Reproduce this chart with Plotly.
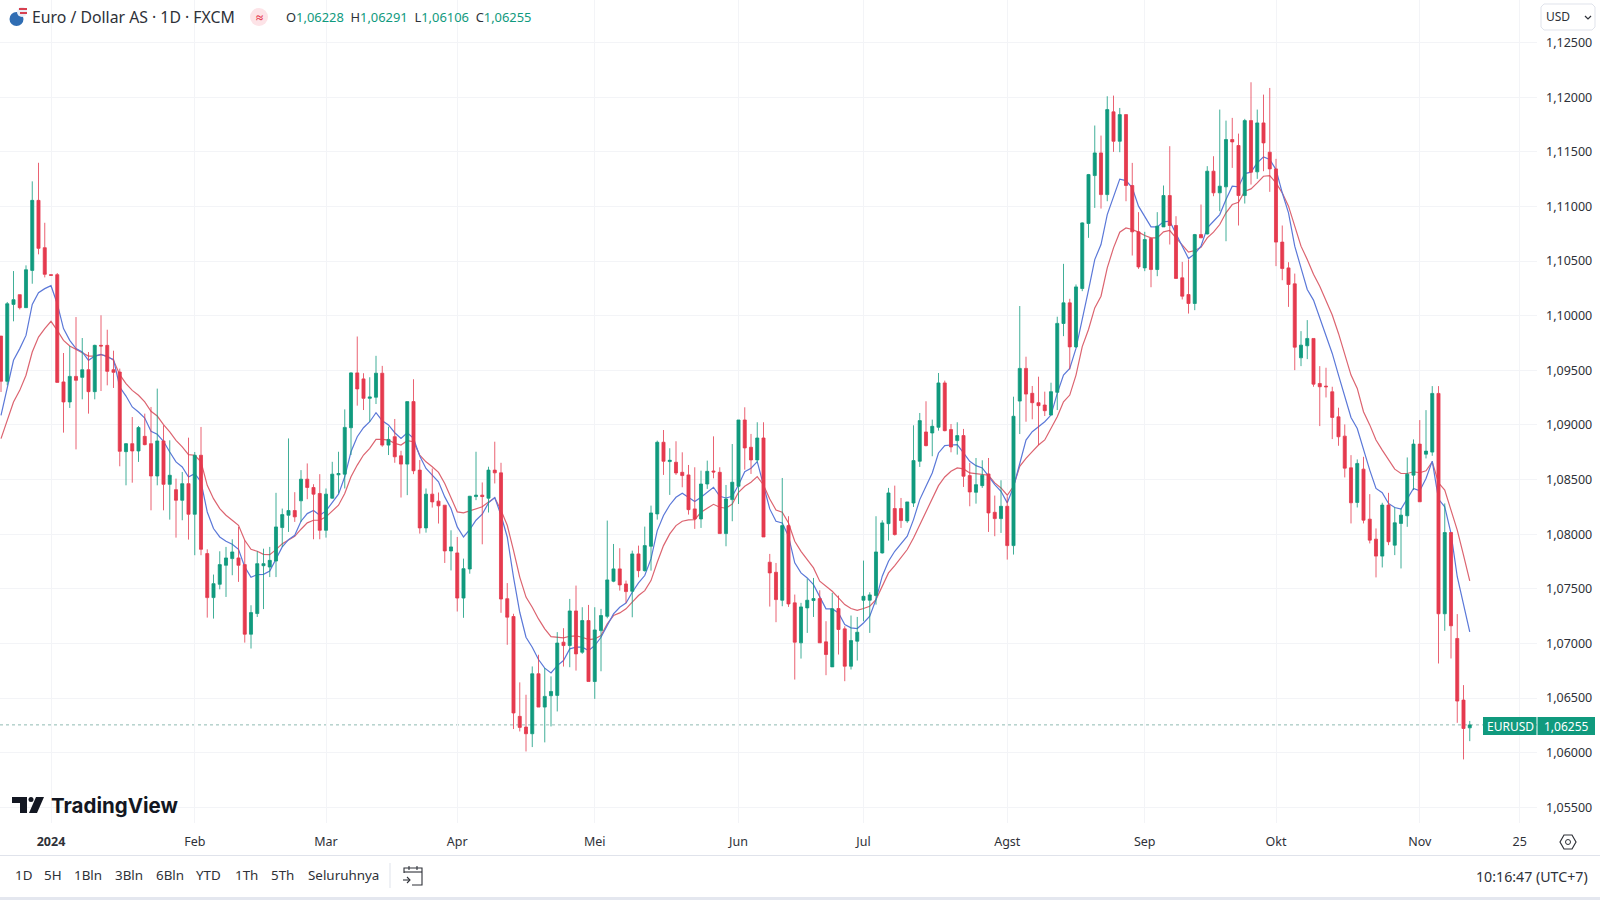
#!/usr/bin/env python3
"""EUR/USD daily candles with two moving averages, TradingView style."""
import plotly.graph_objects as go

WIDTH = 1600
HEIGHT = 900
PANE_RIGHT = 1537
PANE_BOTTOM = 823

GREEN = "#109a7e"
RED = "#e53a4e"
BLUE_MA = "#5b78d8"
RED_MA = "#dc6470"
GRID = "#f3f4f7"
TEXT = "#2e3138"
FONT = "Noto Sans"

# bar number 0 is 1 Jan 2024, one bar per weekday
bars = list(range(-8, 228))

opens = [
    1.09814, 1.09400, 1.10104, 1.10193, 1.10074, 1.10415, 1.11056, 1.10623,
    1.10376, 1.10376, 1.09394, 1.09211, 1.09445, 1.09436, 1.09506, 1.09305, 1.09729, 1.09729,
    1.09506, 1.09485, 1.08756, 1.08829, 1.08762, 1.08896, 1.08829, 1.08533, 1.08854, 1.08457,
    1.08408, 1.08311, 1.08463, 1.08183, 1.08723, 1.07823, 1.07420, 1.07542, 1.07716, 1.07777,
    1.07783, 1.07722, 1.07085, 1.07274, 1.07712, 1.07700, 1.07755, 1.08061, 1.08174, 1.08217,
    1.08306, 1.08504, 1.08428, 1.08373, 1.08036, 1.08330, 1.08544, 1.08550, 1.08975, 1.09477,
    1.09422, 1.09244, 1.09254, 1.09474, 1.08816, 1.08893, 1.08718, 1.08642, 1.09214, 1.08587,
    1.08058, 1.08367, 1.08303, 1.08266, 1.07847, 1.07829, 1.07416, 1.07682, 1.08345, 1.08358,
    1.08330, 1.08587, 1.08562, 1.07410, 1.07247, 1.06333, 1.06235, 1.06174, 1.06723, 1.06418,
    1.06522, 1.06525, 1.07012, 1.06981, 1.07298, 1.06920, 1.07210, 1.06652, 1.07118, 1.07249,
    1.07570, 1.07683, 1.07545, 1.07478, 1.07820, 1.07667, 1.07890, 1.08186, 1.08842, 1.08665,
    1.08659, 1.08567, 1.08543, 1.08232, 1.08140, 1.08460, 1.08579, 1.08567, 1.08006, 1.08317,
    1.08439, 1.09046, 1.08796, 1.08680, 1.08881, 1.07744, 1.07652, 1.07396, 1.08079, 1.07372,
    1.07006, 1.07326, 1.07393, 1.07411, 1.07015, 1.06786, 1.07320, 1.07134, 1.06792, 1.07021,
    1.07396, 1.07396, 1.07439, 1.07829, 1.08097, 1.08235, 1.08235, 1.08122, 1.08286, 1.08668,
    1.08936, 1.08927, 1.08979, 1.09385, 1.08958, 1.08857, 1.08903, 1.08537, 1.08384, 1.08445,
    1.08552, 1.08201, 1.08143, 1.08256, 1.07896, 1.09219, 1.09518, 1.09290, 1.09204, 1.09183,
    1.09091, 1.09299, 1.09929, 1.10118, 1.09715, 1.10249, 1.10844, 1.11283, 1.11490, 1.11109,
    1.11866, 1.11597, 1.11841, 1.11192, 1.10768, 1.10438, 1.10707, 1.10423, 1.10813, 1.11100,
    1.10826, 1.10347, 1.10194, 1.10112, 1.10743, 1.10749, 1.11323, 1.11125, 1.11180, 1.11613,
    1.11558, 1.11100, 1.11786, 1.11317, 1.11765, 1.11497, 1.11344, 1.10674, 1.10438, 1.10292,
    1.09615, 1.09725, 1.09792, 1.09380, 1.09356, 1.09304, 1.09075, 1.08898, 1.08608, 1.08291,
    1.08596, 1.08138, 1.07955, 1.07800, 1.08267, 1.07900, 1.08099, 1.08169, 1.08541, 1.08825,
    1.08733, 1.08752, 1.09289, 1.07272, 1.08016, 1.07046, 1.06482, 1.06228,
]
highs = [
    1.09814, 1.10126, 1.10409, 1.10193, 1.10461, 1.11230, 1.11400, 1.10851,
    1.10376, 1.10391, 1.09659, 1.09723, 1.09988, 1.09796, 1.09668, 1.09735, 1.10004, 1.09872,
    1.09680, 1.09516, 1.08835, 1.09073, 1.08991, 1.09104, 1.09165, 1.09333, 1.08997, 1.08860,
    1.08509, 1.08570, 1.08884, 1.08753, 1.08982, 1.07862, 1.07631, 1.07844, 1.07884, 1.07954,
    1.08067, 1.07945, 1.07350, 1.07844, 1.07868, 1.07884, 1.08379, 1.08235, 1.08877, 1.08385,
    1.08587, 1.08648, 1.08458, 1.08550, 1.08419, 1.08663, 1.08755, 1.09143, 1.09483, 1.09810,
    1.09474, 1.09437, 1.09633, 1.09541, 1.08984, 1.09055, 1.08764, 1.09214, 1.09419, 1.08679,
    1.08419, 1.08602, 1.08382, 1.08266, 1.08036, 1.07975, 1.07777, 1.08351, 1.08755, 1.08474,
    1.08618, 1.08847, 1.08654, 1.07553, 1.07272, 1.06644, 1.06531, 1.06790, 1.06897, 1.06775,
    1.06699, 1.07104, 1.07140, 1.07408, 1.07530, 1.07332, 1.07353, 1.07332, 1.07317, 1.08125,
    1.07911, 1.07872, 1.07576, 1.07850, 1.07896, 1.08070, 1.08262, 1.08857, 1.08954, 1.08787,
    1.08851, 1.08750, 1.08634, 1.08613, 1.08582, 1.08674, 1.08896, 1.08613, 1.08451, 1.08826,
    1.09046, 1.09162, 1.08918, 1.09025, 1.09025, 1.07820, 1.07737, 1.08515, 1.08165, 1.07448,
    1.07372, 1.07594, 1.07600, 1.07487, 1.07204, 1.07463, 1.07439, 1.07158, 1.07256, 1.07243,
    1.07759, 1.07469, 1.08165, 1.08128, 1.08424, 1.08445, 1.08332, 1.08296, 1.08997, 1.09110,
    1.09217, 1.09049, 1.09476, 1.09406, 1.09009, 1.09025, 1.08964, 1.08653, 1.08698, 1.08677,
    1.08698, 1.08354, 1.08494, 1.08348, 1.09259, 1.10089, 1.09625, 1.09357, 1.09442, 1.09305,
    1.09387, 1.09991, 1.10475, 1.10155, 1.10286, 1.10856, 1.11298, 1.11741, 1.11649, 1.12009,
    1.12015, 1.11902, 1.11841, 1.11399, 1.10948, 1.10768, 1.10713, 1.10948, 1.11192, 1.11552,
    1.10911, 1.10493, 1.10515, 1.10749, 1.11018, 1.11369, 1.11460, 1.11887, 1.11786, 1.11811,
    1.11667, 1.11802, 1.12137, 1.11887, 1.12024, 1.12085, 1.11436, 1.10826, 1.10490, 1.10386,
    1.09859, 1.09960, 1.09792, 1.09539, 1.09524, 1.09350, 1.09158, 1.09005, 1.08724, 1.08685,
    1.08709, 1.08367, 1.08053, 1.08288, 1.08379, 1.08245, 1.08236, 1.08703, 1.08868, 1.09045,
    1.09136, 1.09356, 1.09356, 1.08282, 1.08016, 1.07269, 1.06619, 1.06291,
]
lows = [
    1.09302, 1.09363, 1.09949, 1.10058, 1.10074, 1.10293, 1.10562, 1.10351,
    1.10367, 1.09390, 1.08930, 1.09156, 1.08777, 1.09235, 1.09104, 1.09235, 1.09311, 1.09363,
    1.09339, 1.08622, 1.08448, 1.08472, 1.08662, 1.08814, 1.08219, 1.08448, 1.08219, 1.08134,
    1.07969, 1.08128, 1.07951, 1.07808, 1.07808, 1.07237, 1.07228, 1.07496, 1.07426, 1.07625,
    1.07564, 1.07008, 1.06954, 1.07243, 1.07315, 1.07608, 1.07608, 1.07884, 1.08021, 1.08113,
    1.08113, 1.08321, 1.07954, 1.07954, 1.07969, 1.08327, 1.08373, 1.08419, 1.08725, 1.09177,
    1.09137, 1.09030, 1.09192, 1.08801, 1.08725, 1.08654, 1.08336, 1.08358, 1.08550, 1.08006,
    1.08015, 1.08244, 1.08098, 1.07737, 1.07669, 1.07293, 1.07235, 1.07639, 1.08312, 1.07908,
    1.08199, 1.08465, 1.07281, 1.06988, 1.06217, 1.06195, 1.06012, 1.06052, 1.06418, 1.06095,
    1.06241, 1.06378, 1.06789, 1.06783, 1.06752, 1.06905, 1.06652, 1.06493, 1.06746, 1.07231,
    1.07561, 1.07484, 1.07371, 1.07240, 1.07606, 1.07658, 1.07667, 1.08134, 1.08543, 1.08360,
    1.08543, 1.08430, 1.08180, 1.08049, 1.08058, 1.08415, 1.08512, 1.08006, 1.07890, 1.08119,
    1.08277, 1.08591, 1.08552, 1.08659, 1.07975, 1.07338, 1.07195, 1.07341, 1.07335, 1.06670,
    1.06862, 1.07097, 1.07243, 1.07006, 1.06710, 1.06786, 1.06899, 1.06655, 1.06762, 1.06844,
    1.07204, 1.07097, 1.07356, 1.07823, 1.07942, 1.07988, 1.08058, 1.08104, 1.08250, 1.08616,
    1.08805, 1.08714, 1.08948, 1.08942, 1.08750, 1.08729, 1.08433, 1.08256, 1.08280, 1.08424,
    1.08021, 1.07982, 1.08012, 1.07768, 1.07814, 1.08917, 1.09030, 1.09052, 1.08817, 1.09082,
    1.09091, 1.09137, 1.09813, 1.09508, 1.09706, 1.10225, 1.10713, 1.10987, 1.10981, 1.11048,
    1.11500, 1.11497, 1.11048, 1.10551, 1.10429, 1.10408, 1.10261, 1.10362, 1.10813, 1.10652,
    1.10341, 1.10149, 1.10020, 1.10051, 1.10713, 1.10743, 1.11094, 1.10957, 1.10682, 1.11353,
    1.10826, 1.11027, 1.11201, 1.11253, 1.11323, 1.11134, 1.10454, 1.10325, 1.10081, 1.09502,
    1.09539, 1.09603, 1.09350, 1.08990, 1.09252, 1.08871, 1.08810, 1.08520, 1.08099, 1.08245,
    1.08099, 1.07916, 1.07605, 1.07696, 1.07900, 1.07809, 1.07687, 1.08068, 1.08404, 1.08297,
    1.08694, 1.08718, 1.06817, 1.07116, 1.06863, 1.06274, 1.05939, 1.06106,
]
closes = [
    1.09400, 1.10110, 1.10147, 1.10074, 1.10421, 1.11056, 1.10617, 1.10379,
    1.10370, 1.09390, 1.09211, 1.09445, 1.09409, 1.09506, 1.09305, 1.09729, 1.09723, 1.09491,
    1.09482, 1.08759, 1.08829, 1.08762, 1.08976, 1.08820, 1.08533, 1.08854, 1.08457, 1.08540,
    1.08311, 1.08463, 1.08183, 1.08723, 1.07862, 1.07420, 1.07548, 1.07722, 1.07783, 1.07838,
    1.07716, 1.07085, 1.07283, 1.07731, 1.07731, 1.07761, 1.08067, 1.08180, 1.08217, 1.08159,
    1.08504, 1.08428, 1.08367, 1.08036, 1.08367, 1.08550, 1.08556, 1.08978, 1.09477, 1.09330,
    1.09244, 1.09257, 1.09474, 1.08816, 1.08868, 1.08709, 1.08642, 1.09214, 1.08581, 1.08058,
    1.08367, 1.08296, 1.08260, 1.07847, 1.07884, 1.07416, 1.07685, 1.08348, 1.08358, 1.08345,
    1.08587, 1.08562, 1.07407, 1.07241, 1.06364, 1.06232, 1.06174, 1.06723, 1.06418, 1.06516,
    1.06561, 1.07004, 1.06981, 1.07298, 1.06905, 1.07210, 1.06652, 1.07124, 1.07256, 1.07582,
    1.07683, 1.07536, 1.07475, 1.07820, 1.07667, 1.07896, 1.08195, 1.08842, 1.08668, 1.08677,
    1.08561, 1.08537, 1.08225, 1.08140, 1.08460, 1.08576, 1.08570, 1.08006, 1.08323, 1.08476,
    1.09046, 1.08790, 1.08680, 1.08881, 1.07975, 1.07646, 1.07402, 1.08079, 1.07362, 1.07012,
    1.07335, 1.07396, 1.07411, 1.07006, 1.06899, 1.07317, 1.07128, 1.06792, 1.07027, 1.07103,
    1.07432, 1.07445, 1.07838, 1.08104, 1.08378, 1.07997, 1.08125, 1.08296, 1.08674, 1.09040,
    1.08811, 1.08988, 1.09385, 1.08948, 1.08799, 1.08903, 1.08531, 1.08387, 1.08454, 1.08540,
    1.08195, 1.08143, 1.08256, 1.07896, 1.09080, 1.09518, 1.09283, 1.09204, 1.09177, 1.09131,
    1.09305, 1.09930, 1.10118, 1.09715, 1.10264, 1.10850, 1.11292, 1.11490, 1.11109, 1.11887,
    1.11597, 1.11841, 1.11192, 1.10768, 1.10447, 1.10698, 1.10423, 1.10820, 1.11100, 1.10826,
    1.10341, 1.10179, 1.10112, 1.10743, 1.10713, 1.11323, 1.11125, 1.11186, 1.11613, 1.11591,
    1.11100, 1.11786, 1.11314, 1.11765, 1.11582, 1.11344, 1.10674, 1.10432, 1.10286, 1.09712,
    1.09731, 1.09792, 1.09374, 1.09350, 1.09350, 1.09069, 1.08892, 1.08605, 1.08288, 1.08648,
    1.08129, 1.07946, 1.07800, 1.08267, 1.07931, 1.08105, 1.08175, 1.08550, 1.08825, 1.08297,
    1.08761, 1.09289, 1.07272, 1.08016, 1.07162, 1.06473, 1.06222, 1.06255,
]

ma_fast = [
    1.09089, 1.09348, 1.09592, 1.09699, 1.09820, 1.10104, 1.10211, 1.10248,
    1.10275, 1.10110, 1.09882, 1.09775, 1.09699, 1.09668, 1.09592, 1.09631, 1.09647, 1.09622,
    1.09601, 1.09348, 1.09265, 1.09165, 1.09119, 1.09064, 1.08942, 1.08915, 1.08851, 1.08753,
    1.08662, 1.08616, 1.08524, 1.08555, 1.08479, 1.08204, 1.08052, 1.07975, 1.07936, 1.07908,
    1.07862, 1.07701, 1.07606, 1.07631, 1.07633, 1.07663, 1.07777, 1.07884, 1.07951, 1.07991,
    1.08119, 1.08189, 1.08217, 1.08174, 1.08214, 1.08296, 1.08367, 1.08526, 1.08755, 1.08893,
    1.08975, 1.09030, 1.09113, 1.09039, 1.09000, 1.08929, 1.08877, 1.08929, 1.08877, 1.08715,
    1.08602, 1.08541, 1.08480, 1.08342, 1.08235, 1.08067, 1.07975, 1.08043, 1.08128, 1.08183,
    1.08287, 1.08336, 1.08174, 1.07975, 1.07608, 1.07286, 1.07057, 1.06966, 1.06853, 1.06774,
    1.06731, 1.06798, 1.06844, 1.06951, 1.06966, 1.06966, 1.06935, 1.06981, 1.07057, 1.07164,
    1.07271, 1.07332, 1.07371, 1.07469, 1.07554, 1.07622, 1.07774, 1.08033, 1.08171, 1.08268,
    1.08338, 1.08375, 1.08338, 1.08299, 1.08338, 1.08384, 1.08430, 1.08347, 1.08332, 1.08347,
    1.08451, 1.08573, 1.08604, 1.08665, 1.08451, 1.08232, 1.08119, 1.08103, 1.07982, 1.07738,
    1.07646, 1.07600, 1.07539, 1.07433, 1.07317, 1.07317, 1.07280, 1.07173, 1.07143, 1.07137,
    1.07188, 1.07250, 1.07402, 1.07616, 1.07753, 1.07844, 1.07914, 1.07982, 1.08134, 1.08317,
    1.08439, 1.08561, 1.08744, 1.08811, 1.08817, 1.08820, 1.08744, 1.08668, 1.08628, 1.08607,
    1.08531, 1.08454, 1.08393, 1.08287, 1.08433, 1.08653, 1.08862, 1.08939, 1.08985, 1.09030,
    1.09091, 1.09290, 1.09457, 1.09518, 1.09701, 1.09961, 1.10235, 1.10514, 1.10652, 1.10926,
    1.11094, 1.11250, 1.11237, 1.11170, 1.11003, 1.10911, 1.10813, 1.10813, 1.10859, 1.10865,
    1.10758, 1.10637, 1.10524, 1.10566, 1.10637, 1.10804, 1.10865, 1.10926, 1.11064, 1.11186,
    1.11179, 1.11301, 1.11314, 1.11399, 1.11454, 1.11430, 1.11338, 1.11125, 1.10942, 1.10637,
    1.10438, 1.10240, 1.10143, 1.09975, 1.09823, 1.09655, 1.09457, 1.09258, 1.09069, 1.08968,
    1.08770, 1.08587, 1.08419, 1.08380, 1.08282, 1.08245, 1.08230, 1.08322, 1.08419, 1.08398,
    1.08511, 1.08669, 1.08322, 1.08251, 1.08007, 1.07611, 1.07351, 1.07107,
]
ma_slow = [
    1.08875, 1.09043, 1.09210, 1.09317, 1.09455, 1.09668, 1.09805, 1.09882,
    1.09949, 1.09866, 1.09775, 1.09723, 1.09692, 1.09668, 1.09631, 1.09631, 1.09644, 1.09631,
    1.09592, 1.09461, 1.09378, 1.09317, 1.09272, 1.09211, 1.09125, 1.09082, 1.09003, 1.08936,
    1.08860, 1.08799, 1.08729, 1.08723, 1.08662, 1.08448, 1.08326, 1.08235, 1.08174, 1.08128,
    1.08082, 1.07945, 1.07862, 1.07844, 1.07816, 1.07813, 1.07859, 1.07914, 1.07945, 1.07981,
    1.08046, 1.08104, 1.08128, 1.08128, 1.08159, 1.08214, 1.08266, 1.08373, 1.08526, 1.08633,
    1.08725, 1.08786, 1.08868, 1.08868, 1.08862, 1.08832, 1.08816, 1.08856, 1.08847, 1.08725,
    1.08663, 1.08618, 1.08566, 1.08465, 1.08342, 1.08205, 1.08195, 1.08214, 1.08235, 1.08251,
    1.08296, 1.08333, 1.08220, 1.08082, 1.07853, 1.07608, 1.07425, 1.07332, 1.07225, 1.07134,
    1.07063, 1.07054, 1.07051, 1.07066, 1.07069, 1.07057, 1.07036, 1.07042, 1.07073, 1.07179,
    1.07256, 1.07280, 1.07317, 1.07378, 1.07439, 1.07484, 1.07576, 1.07744, 1.07896, 1.08003,
    1.08079, 1.08119, 1.08131, 1.08134, 1.08201, 1.08238, 1.08274, 1.08247, 1.08238, 1.08277,
    1.08384, 1.08439, 1.08476, 1.08527, 1.08451, 1.08323, 1.08222, 1.08201, 1.08103, 1.07936,
    1.07844, 1.07768, 1.07692, 1.07570, 1.07524, 1.07478, 1.07417, 1.07356, 1.07320, 1.07304,
    1.07320, 1.07341, 1.07402, 1.07524, 1.07646, 1.07713, 1.07783, 1.07860, 1.07966, 1.08088,
    1.08210, 1.08317, 1.08445, 1.08524, 1.08576, 1.08607, 1.08598, 1.08561, 1.08552, 1.08546,
    1.08540, 1.08470, 1.08424, 1.08357, 1.08439, 1.08622, 1.08695, 1.08756, 1.08817, 1.08863,
    1.08969, 1.09076, 1.09213, 1.09274, 1.09457, 1.09717, 1.09874, 1.10072, 1.10179, 1.10438,
    1.10621, 1.10765, 1.10804, 1.10789, 1.10765, 1.10734, 1.10713, 1.10713, 1.10768, 1.10780,
    1.10713, 1.10643, 1.10582, 1.10597, 1.10627, 1.10713, 1.10765, 1.10835, 1.10942, 1.11018,
    1.11039, 1.11140, 1.11161, 1.11216, 1.11277, 1.11283, 1.11216, 1.11125, 1.11003, 1.10820,
    1.10637, 1.10515, 1.10380, 1.10270, 1.10143, 1.10006, 1.09838, 1.09640, 1.09457, 1.09335,
    1.09121, 1.09001, 1.08862, 1.08770, 1.08679, 1.08596, 1.08556, 1.08556, 1.08572, 1.08563,
    1.08581, 1.08663, 1.08471, 1.08404, 1.08221, 1.08038, 1.07809, 1.07574,
]

price_ticks = [1.055, 1.06, 1.065, 1.07, 1.075, 1.08, 1.085, 1.09, 1.095,
               1.10, 1.105, 1.11, 1.115, 1.12, 1.125]
month_ticks = [0, 23, 44, 65, 87, 110, 130, 153, 175, 196, 219, 235]
month_labels = ["<b>2024</b>", "Feb", "Mar", "Apr", "Mei", "Jun", "Jul", "Agst", "Sep", "Okt", "Nov", "25"]

range_buttons = ["1D", "5H", "1Bln", "3Bln", "6Bln", "YTD", "1Th", "5Th", "Seluruhnya"]
range_button_x = [23, 52.5, 87.5, 128.5, 169.5, 208.5, 246, 282, 343]

symbol_title = "Euro / Dollar AS · 1D · FXCM"
symbol_short = "EURUSD"
clock_text = "10:16:47 (UTC+7)"


def fmt(value):
    return f"{value:.5f}".replace(".", ",")


def px(x):
    return x / WIDTH


def py(y):
    return 1 - y / HEIGHT


def path(points, close=True):
    cmds = [f"{'M' if i == 0 else 'L'}{px(x):.5f},{py(y):.5f}" for i, (x, y) in enumerate(points)]
    return " ".join(cmds) + (" Z" if close else "")


def label(x, y, text, size=13, color=TEXT, anchor="center", family=FONT):
    return dict(
        x=px(x), y=py(y), xref="paper", yref="paper", text=text, showarrow=False,
        xanchor=anchor, yanchor="middle", font=dict(family=family, size=size, color=color),
    )


def box(x0, y0, x1, y1, fill, line=None, kind="rect"):
    return dict(
        type=kind, xref="paper", yref="paper", x0=px(x0), y0=py(y0), x1=px(x1), y1=py(y1),
        fillcolor=fill, line=dict(color=line or fill, width=1 if line else 0),
    )


def outline(points, fill=None, line=None, width=1.2, close=True):
    return dict(
        type="path", xref="paper", yref="paper", path=path(points, close),
        fillcolor=fill or "rgba(0,0,0,0)",
        line=dict(color=line or "rgba(0,0,0,0)", width=width if line else 0),
    )


fig = go.Figure()

# Averages go on the base axes so the candles (overlay axes) sit on top of them
fig.add_trace(go.Scatter(x=bars, y=ma_slow, mode="lines", name="MA slow",
                         line=dict(color=RED_MA, width=1.2)))
fig.add_trace(go.Scatter(x=bars, y=ma_fast, mode="lines", name="MA fast",
                         line=dict(color=BLUE_MA, width=1.2)))
fig.add_trace(go.Candlestick(
    x=bars, open=opens, high=highs, low=lows, close=closes, name=symbol_short,
    xaxis="x2", yaxis="y2", whiskerwidth=0,
    increasing=dict(line=dict(color=GREEN, width=0.8), fillcolor=GREEN),
    decreasing=dict(line=dict(color=RED, width=0.8), fillcolor=RED),
))

last_close = closes[-1]

shapes = [
    # bottom toolbar
    box(0, 855, WIDTH, 856, "#e0e3eb"),
    box(0, 897, WIDTH, HEIGHT, "#e4e7ef"),
    box(389.5, 863, 390.5, 888, "#e0e3eb"),
    # last price line
    dict(type="line", xref="paper", yref="y", x0=0, x1=px(PANE_RIGHT), y0=last_close, y1=last_close,
         layer="below", line=dict(color="#5f9c90", width=0.7, dash="dot")),
    # last price tags
    box(1483, 717, 1536.5, 735, GREEN),
    box(1537.5, 717, 1595, 735, GREEN),
    # symbol icon
    box(9.5, 12, 23.5, 26, "#2f6db3", kind="circle"),
    box(17, 7, 27, 17, "#e9edf5", kind="circle"),
    box(19, 8, 27, 10, "#d8404f"),
    box(20, 12, 27, 14, "#d8404f"),
    # indicator bubble
    box(250, 8, 268, 26, "#fde3e7", kind="circle"),
    # currency selector
    outline([(1544, 4), (1592, 4), (1595, 7), (1595, 27), (1592, 30), (1544, 30), (1541, 27), (1541, 7)],
            fill="white", line="#e0e3eb", width=1),
    outline([(1585, 16), (1588, 19), (1591, 16)], line=TEXT, width=1.2, close=False),
    # TradingView mark
    outline([(12, 797), (27, 797), (27, 813), (20, 813), (20, 803), (12, 803)], fill="#131722"),
    box(28.5, 797, 33.5, 802, "#131722", kind="circle"),
    outline([(36, 797), (44, 797), (37, 813), (29, 813)], fill="#131722"),
    # settings hexagon
    outline([(1560, 842), (1564, 835), (1572, 835), (1576, 842), (1572, 849), (1564, 849)],
            line="#2e3138", width=1.2),
    box(1565.5, 839.5, 1570.5, 844.5, "rgba(0,0,0,0)", line="#2e3138", kind="circle"),
    # calendar button
    outline([(404, 873), (404, 868), (422, 868), (422, 885), (412, 885)], line="#2e3138", width=1.1, close=False),
    outline([(404, 872), (422, 872)], line="#2e3138", width=1.1, close=False),
    outline([(409, 866), (409, 870)], line="#2e3138", width=1.1, close=False),
    outline([(417, 866), (417, 870)], line="#2e3138", width=1.1, close=False),
    outline([(403, 880), (410, 880)], line="#2e3138", width=1.1, close=False),
    outline([(407, 877), (410, 880), (407, 883)], line="#2e3138", width=1.1, close=False),
]

ohlc_text = "  ".join(
    f'<span style="color:{TEXT}">{name}</span><span style="color:{GREEN}">{fmt(value)}</span>'
    for name, value in zip("OHLC", [opens[-1], highs[-1], lows[-1], closes[-1]])
)

annotations = [
    label(30, 17, symbol_title, size=15.8, anchor="left"),
    label(259, 17, "<b>≈</b>", size=13, color=RED),
    label(284, 17, ohlc_text, size=12.9, anchor="left"),
    label(1544, 17, "USD", size=12, anchor="left"),
    label(49, 805, "<b>TradingView</b>", size=20.5, color="#131722", anchor="left", family="Inter"),
    label(1510, 726, symbol_short, size=12, color="white"),
    label(1566, 726, fmt(last_close), size=12, color="white"),
    label(1590, 876, clock_text, size=14.2, anchor="right"),
]
annotations += [label(x, 875, text, size=13.4) for x, text in zip(range_button_x, range_buttons)]

fig.update_layout(
    width=WIDTH, height=HEIGHT,
    margin=dict(l=0, r=0, t=0, b=0),
    paper_bgcolor="white", plot_bgcolor="white",
    showlegend=False,
    font=dict(family=FONT, size=12, color=TEXT),
    shapes=shapes,
    annotations=annotations,
    xaxis=dict(
        domain=[0, PANE_RIGHT / WIDTH], range=[-8.16, 237.76],
        tickmode="array", tickvals=month_ticks, ticktext=month_labels,
        ticks="", showgrid=True, gridcolor=GRID, gridwidth=1, zeroline=False, showline=False,
        tickfont=dict(size=12.5, color=TEXT), ticklabelstandoff=9,
    ),
    yaxis=dict(
        domain=[1 - PANE_BOTTOM / HEIGHT, 1], range=[1.05357, 1.12890], side="right",
        tickmode="array", tickvals=price_ticks, ticktext=[fmt(v) for v in price_ticks],
        ticks="", showgrid=True, gridcolor=GRID, gridwidth=1, zeroline=False, showline=False,
        tickfont=dict(size=12.5, color=TEXT), ticklabelstandoff=8,
    ),
    xaxis2=dict(overlaying="x", matches="x", visible=False, rangeslider=dict(visible=False)),
    yaxis2=dict(overlaying="y", matches="y", visible=False),
)

# The page's default body margin would push the 1600x900 figure off by 8px
fig.write_html(
    "out.html",
    config={"displayModeBar": False},
    post_script="document.body.style.margin='0';document.body.style.overflow='hidden';",
)
